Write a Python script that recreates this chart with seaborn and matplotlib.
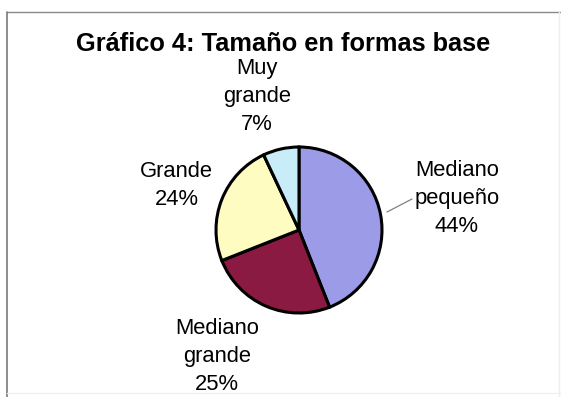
import matplotlib
matplotlib.use("Agg")
import matplotlib.pyplot as plt
import seaborn as sns
from matplotlib.lines import Line2D

# Data
categories = ["Mediano\npequeño", "Mediano\ngrande", "Grande", "Muy\ngrande"]
percentages = [44, 25, 24, 7]
title = "Gráfico 4: Tamaño en formas base"

sns.set_theme(style="white")
plt.rcParams["font.family"] = ["Liberation Sans", "DejaVu Sans"]

slice_colors = sns.color_palette(["#9b9be8", "#8a1a42", "#fffcc2", "#c8ecf8"])

W, H = 561, 397
fig = plt.figure(figsize=(W / 100, H / 100), dpi=100)
fig.patch.set_facecolor("white")
ax = fig.add_axes([0, 0, 1, 1])

# work in pixel units, y measured from the top
def py(y):
    return H - y

center = (299, py(230))
radius = 83

wedges, _ = ax.pie(
    percentages,
    colors=slice_colors,
    startangle=90,
    counterclock=False,
    radius=radius,
    center=center,
    wedgeprops=dict(edgecolor="black", linewidth=2.2),
)

ax.set_xlim(0, W)
ax.set_ylim(0, H)
ax.set_aspect("equal")
ax.axis("off")

# outer chart frame
ax.add_line(Line2D([7, W], [py(12), py(12)], color="#8a8a8a", lw=1.0))
ax.add_line(Line2D([7, 7], [py(12), py(H)], color="#7a7a7a", lw=1.2))
ax.add_line(Line2D([559, 559], [py(12), py(H)], color="#eeeeee", lw=1.0))
ax.add_line(Line2D([7, W], [py(393), py(393)], color="#f0f0f0", lw=1.0))

ax.text(283.5, py(51), title, ha="center", va="baseline",
        fontsize=18.3, fontweight="bold", color="black")

# label anchors: centre x and baseline of the last (percentage) line, in pixels
label_pos = [(457, 232), (217, 390), (176.5, 205), (257, 130)]
for name, pct, (lx, ly) in zip(categories, percentages, label_pos):
    ax.text(lx, py(ly), f"{name}\n{pct}%", ha="center", va="baseline",
            fontsize=15.8, color="black", linespacing=1.45,
            multialignment="center")

# leader line for the largest slice
ax.add_line(Line2D([412, 387], [py(199), py(212)], color="#808080", lw=0.9))

fig.savefig("out.png", dpi=100, facecolor="white")
